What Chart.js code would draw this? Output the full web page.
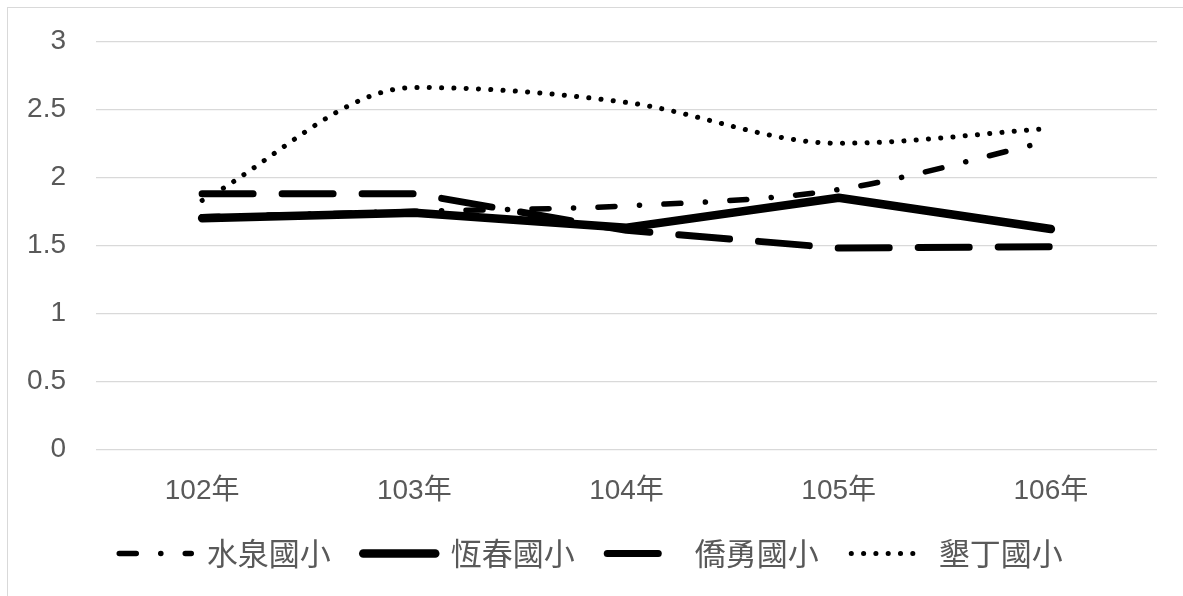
<!DOCTYPE html>
<html>
<head>
<meta charset="utf-8">
<script src="https://cdn.jsdelivr.net/npm/chart.js@4/dist/chart.umd.min.js"></script>
<style>
    body { margin: 0; background: #fff; overflow: hidden; }
    .frame { position: absolute; left: 7px; top: 7px; width: 1300px; height: 700px; border: 1px solid #d9d9d9; }
    .wrap { position: absolute; left: 0; top: 0; width: 1183px; height: 596px; }
</style>
</head>
<body>
<div class="frame"></div>
<div class="wrap"><canvas id="chart"></canvas></div>
<script>
const years = ['102年', '103年', '104年', '105年', '106年'];
const yTicks = [0, 0.5, 1, 1.5, 2, 2.5, 3];

const shuiquan = [1.71, 1.75, 1.79, 1.91, 2.27];   // 水泉國小
const hengchun = [1.70, 1.74, 1.63, 1.85, 1.62];   // 恆春國小
const qiaoyong = [1.88, 1.88, 1.61, 1.48, 1.49];   // 僑勇國小
const kending = [1.83, 2.66, 2.55, 2.25, 2.36];    // 墾丁國小

const fontFamily = '"Liberation Sans", "Noto Sans CJK TC", sans-serif';
const legendFont = { family: '"Noto Sans CJK TC", "Liberation Sans", sans-serif', size: 31 };

function line(label, data, width, dash, smooth, order) {
    return {
        label: label,
        data: data,
        borderColor: '#000',
        backgroundColor: '#000',
        borderWidth: width,
        borderDash: dash,
        borderCapStyle: 'round',
        borderJoinStyle: 'round',
        tension: smooth ? 0.4 : 0,
        cubicInterpolationMode: smooth ? 'monotone' : 'default',
        pointRadius: 0,
        pointHoverRadius: 0,
        fill: false,
        order: order
    };
}

// legend samples should carry the dataset's dash, not the point style
function legendLabels(chart) {
    const items = Chart.defaults.plugins.legend.labels.generateLabels(chart);
    items.forEach(item => {
        const ds = chart.data.datasets[item.datasetIndex];
        item.lineDash = ds.borderDash;
        item.lineWidth = ds.borderWidth;
        item.lineCap = 'round';
        item.strokeStyle = '#000';
        item.fillStyle = '#000';
    });
    return items;
}

new Chart(document.getElementById('chart'), {
    type: 'line',
    data: {
        labels: years,
        datasets: [
            line('水泉國小', shuiquan, 5.5, [17, 24.5, 0.1, 24.4], true, 4),
            line('恆春國小', hengchun, 8.5, [], false, 3),
            line('僑勇國小', qiaoyong, 7, [51, 29], false, 2),
            line('墾丁國小', kending, 5, [0.1, 12.2], true, 1)
        ]
    },
    options: {
        responsive: true,
        maintainAspectRatio: false,
        animation: false,
        layout: { padding: { left: 25, right: 26, top: 35, bottom: 17 } },
        scales: {
            x: {
                offset: true,
                grid: { display: false, drawTicks: false },
                border: { display: false },
                ticks: { color: '#595959', font: { family: fontFamily, size: 28, lineHeight: 0.6 }, padding: 33, maxRotation: 0 },
                afterFit: s => { s.height = 56; }
            },
            y: {
                min: 0,
                max: 3,
                afterBuildTicks: s => { s.ticks = yTicks.map(v => ({ value: v })); },
                grid: { color: '#d9d9d9', lineWidth: 1.3, drawTicks: false },
                border: { display: false },
                ticks: { color: '#595959', font: { family: fontFamily, size: 28, lineHeight: 0.8 }, padding: 30, callback: v => String(v) },
                afterFit: s => { s.width = 71; }
            }
        },
        plugins: {
            tooltip: { enabled: false },
            legend: {
                position: 'bottom',
                labels: {
                    usePointStyle: true,
                    pointStyle: 'line',
                    pointStyleWidth: 72,
                    color: '#595959',
                    font: legendFont,
                    padding: 32.5,
                    generateLabels: legendLabels,
                    sort: (a, b) => a.datasetIndex - b.datasetIndex
                }
            }
        }
    }
});
</script>
</body>
</html>
